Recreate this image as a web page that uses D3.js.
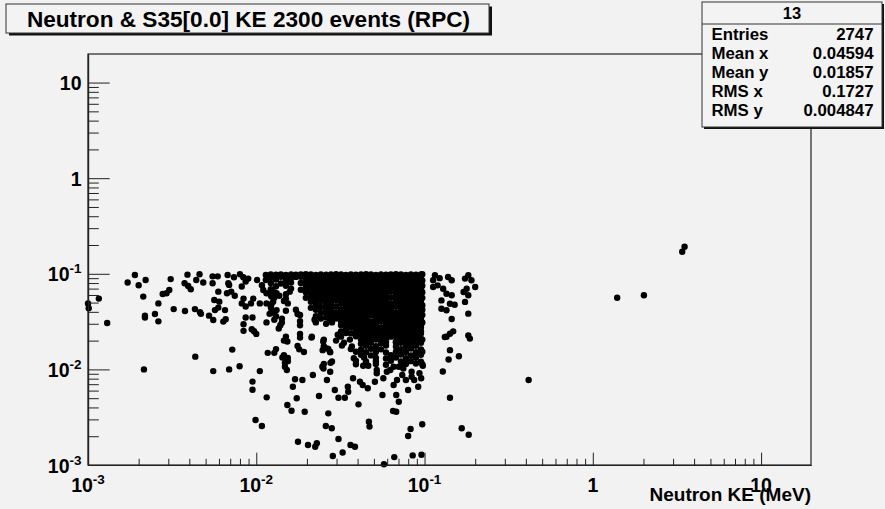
<!DOCTYPE html>
<html>
<head>
<meta charset="utf-8">
<script src="https://cdn.jsdelivr.net/npm/d3@7"></script>
<style>
  html, body { margin: 0; padding: 0; background: #f2f2f2; }
  svg { display: block; }
  text { font-family: "Liberation Sans", Arial, Helvetica, sans-serif; font-weight: bold; fill: #000; }
</style>
</head>
<body>
<script>
// ---- chart text ----
const titleText = "Neutron & S35[0.0] KE 2300 events (RPC)";
const xTitle = "Neutron KE (MeV)";
const statsName = "13";
const statsLabels = ["Entries", "Mean x", "Mean y", "RMS x", "RMS y"];
const statsValues = ["2747", "0.04594", "0.01857", "0.1727", "0.004847"];

// ---- axis ranges and labelled decades ----
const xDomain = [1e-3, 19.8];
const yDomain = [1e-3, 19.9];
const decadeValues = [1e-3, 1e-2, 1e-1, 1, 10];
const decadeBase = ["10", "10", "10", "1", "10"];
const decadeExp = ["-3", "-2", "-1", "", ""];

// ---- events: [neutron KE (MeV), deposit] ----
// low-energy tail on the left
const lowHits = [
  [0.00100,0.049],[0.00101,0.0437],[0.00116,0.055],[0.0013,0.0306],
  [0.00172,0.081],[0.0019,0.097],[0.0020,0.076],[0.0022,0.086],[0.00213,0.0577],[0.00218,0.0365],[0.00218,0.0349],[0.00215,0.0100],
  [0.0025,0.038],[0.00262,0.0318],[0.00262,0.049],[0.00278,0.0614],[0.00293,0.0625],[0.00304,0.0676],[0.0031,0.088],[0.00323,0.0427],
  [0.00377,0.0408],[0.0039,0.098],[0.00375,0.0797],[0.00394,0.0745],[0.00408,0.069],
  [0.00432,0.0427],[0.00463,0.0396],[0.00469,0.0381],[0.0046,0.099],[0.0044,0.086],[0.00484,0.081],[0.00434,0.0136],
  [0.00524,0.0365],[0.00555,0.0329],[0.00555,0.0096],[0.0055,0.0797],[0.0055,0.094],[0.0059,0.094],[0.00595,0.065],
  [0.00563,0.0531],[0.00603,0.0511],[0.00568,0.0417],[0.00595,0.0443],
  [0.00652,0.0417],[0.00637,0.0316],[0.00658,0.0335],
  [0.00676,0.097],[0.00682,0.0797],[0.0069,0.0765],[0.00737,0.092],
  [0.0067,0.0625],[0.0071,0.065],[0.00745,0.059],
  [0.0072,0.0161],[0.0069,0.0100],[0.00796,0.0108],
  [0.0080,0.099],[0.00837,0.092],[0.00896,0.089],[0.00865,0.083],
  [0.0082,0.0735],[0.0084,0.055],[0.0082,0.049],[0.00865,0.0455],[0.0093,0.049],[0.0096,0.055],
  [0.0084,0.0297],[0.0084,0.0253],[0.00865,0.0349],[0.0095,0.0349],
  [0.0094,0.0263],[0.0097,0.0251],[0.0100,0.0235],
  [0.0095,0.00745],[0.0095,0.00613],[0.0105,0.0096],
  [0.0099,0.00296],[0.0108,0.00256],[0.01153,0.0051],
  [0.0117,0.0149],[0.0128,0.0149],[0.0115,0.031],[0.0128,0.033],[0.0136,0.0268],
  [0.0101,0.086],[0.0108,0.076],[0.011,0.0676],[0.0115,0.0625],[0.0123,0.0577],[0.0132,0.0625],
  [0.0105,0.049],[0.0115,0.049],[0.0126,0.051],[0.012,0.0381],[0.0132,0.0417]
];

// main band, 0.01 - 0.1 MeV
const bandHits = [
  [0.0114,0.097],[0.0131,0.098],[0.0150,0.097],[0.0172,0.098],[0.0197,0.099],[0.0226,0.097],[0.0260,0.098],[0.0298,0.099],[0.0341,0.097],[0.0391,0.098],[0.0449,0.099],[0.0514,0.097],[0.0590,0.098],[0.0676,0.099],[0.0775,0.097],[0.0889,0.098],[0.097,0.099],
  [0.0122,0.092],[0.0140,0.093],[0.0161,0.091],[0.0184,0.093],[0.0211,0.092],[0.0242,0.094],[0.0278,0.092],[0.0319,0.093],[0.0365,0.091],[0.0419,0.093],[0.0480,0.092],[0.0551,0.094],[0.0631,0.092],[0.0724,0.093],[0.0830,0.091],[0.0952,0.093],
  [0.0114,0.086],[0.0131,0.087],[0.0150,0.085],[0.0197,0.087],[0.0226,0.086],[0.0260,0.085],[0.0298,0.087],[0.0341,0.086],[0.0391,0.088],[0.0449,0.086],[0.0514,0.085],[0.0590,0.087],[0.0676,0.086],[0.0775,0.088],[0.0889,0.086],[0.097,0.085],
  [0.0122,0.080],[0.0140,0.079],[0.0161,0.081],[0.0184,0.080],[0.0211,0.079],[0.0242,0.081],[0.0278,0.080],[0.0319,0.079],[0.0365,0.080],[0.0419,0.081],[0.0480,0.079],[0.0551,0.080],[0.0631,0.081],[0.0724,0.079],[0.0830,0.080],[0.0952,0.080],
  [0.0131,0.074],[0.0150,0.075],[0.0197,0.075],[0.0226,0.073],[0.0260,0.075],[0.0298,0.074],[0.0341,0.076],[0.0391,0.074],[0.0449,0.075],[0.0514,0.073],[0.0590,0.075],[0.0676,0.074],[0.0775,0.076],[0.0889,0.074],[0.097,0.075],
  [0.0122,0.069],[0.0161,0.070],[0.0184,0.068],[0.0211,0.070],[0.0242,0.069],[0.0278,0.070],[0.0319,0.068],[0.0365,0.069],[0.0419,0.071],[0.0480,0.069],[0.0551,0.068],[0.0631,0.070],[0.0724,0.069],[0.0830,0.071],[0.0952,0.069],
  [0.0128,0.064],[0.0158,0.065],[0.0197,0.064],[0.0226,0.065],[0.0260,0.063],[0.0298,0.065],[0.0341,0.064],[0.0391,0.066],[0.0449,0.064],[0.0514,0.065],[0.0590,0.063],[0.0676,0.065],[0.0775,0.064],[0.0889,0.066],[0.097,0.064],
  [0.0122,0.060],[0.0137,0.059],[0.0150,0.061],[0.0211,0.060],[0.0242,0.059],[0.0278,0.061],[0.0319,0.060],[0.0365,0.059],[0.0419,0.061],[0.0480,0.060],[0.0551,0.059],[0.0724,0.060],[0.0830,0.061],[0.0952,0.059],
  [0.0128,0.056],[0.0150,0.055],[0.0197,0.056],[0.0226,0.055],[0.0260,0.057],[0.0298,0.055],[0.0341,0.056],[0.0391,0.055],[0.0449,0.057],[0.0514,0.056],[0.0590,0.055],[0.0676,0.056],[0.0775,0.057],[0.0889,0.055],[0.097,0.056],
  [0.0146,0.052],[0.0211,0.051],[0.0242,0.052],[0.0278,0.053],[0.0319,0.051],[0.0365,0.052],[0.0419,0.051],[0.0480,0.053],[0.0551,0.052],[0.0724,0.051],[0.0830,0.052],[0.0952,0.053],
  [0.0123,0.048],[0.0154,0.049],[0.0226,0.048],[0.0260,0.049],[0.0341,0.048],[0.0391,0.047],[0.0449,0.049],[0.0514,0.048],[0.0590,0.047],[0.0676,0.049],[0.0775,0.048],[0.0889,0.049],[0.097,0.047],
  [0.0122,0.045],[0.0211,0.044],[0.0242,0.045],[0.0278,0.046],[0.0365,0.045],[0.0419,0.044],[0.0480,0.045],[0.0551,0.046],[0.0631,0.044],[0.0724,0.045],[0.0830,0.046],[0.0952,0.044],
  [0.0123,0.042],[0.0150,0.041],[0.0172,0.042],[0.0226,0.042],[0.0260,0.041],[0.0341,0.042],[0.0391,0.041],[0.0449,0.043],[0.0514,0.042],[0.0590,0.041],[0.0775,0.042],[0.0889,0.041],[0.097,0.042],
  [0.0128,0.039],[0.0176,0.038],[0.0242,0.039],[0.0278,0.038],[0.0319,0.039],[0.0365,0.040],[0.0419,0.039],[0.0480,0.038],[0.0551,0.039],[0.0631,0.040],[0.0724,0.038],[0.0830,0.039],[0.0952,0.039],
  [0.0131,0.036],[0.0182,0.037],[0.0226,0.036],[0.0260,0.035],[0.0298,0.036],[0.0341,0.037],[0.0391,0.036],[0.0449,0.035],[0.0514,0.036],[0.0590,0.037],[0.0676,0.036],[0.0775,0.035],[0.0889,0.036],[0.097,0.037],
  [0.0142,0.034],[0.0222,0.033],[0.0242,0.034],[0.0275,0.033],[0.0319,0.034],[0.0365,0.033],[0.0419,0.034],[0.0551,0.033],[0.0631,0.034],[0.0724,0.033],[0.0830,0.034],[0.0952,0.033],
  [0.0142,0.031],[0.0182,0.032],[0.0226,0.031],[0.0260,0.030],[0.0282,0.031],[0.0341,0.031],[0.0391,0.032],[0.0449,0.031],[0.0514,0.030],[0.0590,0.031],[0.0676,0.032],[0.0775,0.031],[0.0889,0.030],[0.097,0.031],
  [0.0139,0.029],[0.0182,0.029],[0.0319,0.029],[0.0365,0.028],[0.0419,0.029],[0.0480,0.030],[0.0631,0.029],[0.0724,0.028],[0.0830,0.029],[0.0952,0.029],
  [0.0341,0.027],[0.0391,0.026],[0.0449,0.027],[0.0514,0.028],[0.0590,0.027],[0.0676,0.026],[0.0775,0.027],[0.0889,0.027],
  [0.0319,0.025],[0.0419,0.025],[0.0480,0.026],[0.0551,0.025],[0.0631,0.024],[0.0724,0.025],[0.0830,0.026],[0.0952,0.025],
  [0.0182,0.0235],[0.0305,0.023],[0.0341,0.024],[0.0391,0.023],[0.0449,0.024],[0.0514,0.023],[0.0590,0.0235],[0.0676,0.024],[0.0775,0.023],[0.0889,0.024],
  [0.0150,0.022],[0.0182,0.0215],[0.0214,0.022],[0.0319,0.022],[0.0419,0.0215],[0.0480,0.022],[0.0551,0.021],[0.0631,0.022],[0.0724,0.0215],[0.0830,0.022],[0.0952,0.021],
  [0.0146,0.020],[0.0252,0.0205],[0.0298,0.020],[0.0360,0.0205],[0.0449,0.020],[0.0514,0.0205],[0.0590,0.020],[0.0676,0.0195],[0.0775,0.0205],[0.0889,0.020],[0.097,0.0205],
  [0.0332,0.019],[0.0419,0.0185],[0.0480,0.019],[0.0551,0.0188],[0.0724,0.019],[0.0830,0.0185],[0.0952,0.019],
  [0.0176,0.0176],[0.0252,0.0175],[0.0323,0.0178],[0.0370,0.0174],[0.0449,0.0177],[0.0514,0.0175],[0.0590,0.0178],[0.0676,0.0174],[0.0775,0.0176],[0.0889,0.0177],
  [0.0131,0.0163],[0.0180,0.0162],[0.0268,0.0164],[0.0365,0.0163],[0.0419,0.0161],[0.0480,0.0164],[0.0551,0.0162],[0.0724,0.0163],[0.0830,0.0165],[0.0952,0.0162],
  [0.0192,0.0152],[0.0275,0.0151],[0.0391,0.0153],[0.0449,0.0151],[0.0514,0.0152],[0.0590,0.0150],[0.0676,0.0153],[0.0775,0.0152],[0.0889,0.0151],[0.097,0.0153],
  [0.0146,0.0141],[0.0419,0.0142],[0.0480,0.0140],[0.0631,0.0141],[0.0724,0.0143],[0.0830,0.0140],[0.0952,0.0142],
  [0.0154,0.0132],[0.0380,0.0131],[0.0437,0.0133],[0.0514,0.0132],[0.0590,0.0130],[0.0676,0.0133],[0.0775,0.0131],[0.0889,0.0132],
  [0.0154,0.0122],[0.0282,0.0121],[0.0391,0.0123],[0.0449,0.0121],[0.0514,0.0122],[0.0631,0.0123],[0.0724,0.0121],[0.0830,0.0122],[0.0952,0.0120],
  [0.0252,0.0114],[0.0391,0.0113],[0.0449,0.0115],[0.0514,0.0114],[0.0590,0.0112],[0.0775,0.0114],[0.0889,0.0115],[0.097,0.0113]
];

// saturated core of the band, 0.02 - 0.1 MeV
const coreHits = [
  [0.0122,0.0985],[0.0140,0.0985],[0.0161,0.0985],[0.0184,0.0985],[0.0211,0.0985],[0.0242,0.0985],[0.0278,0.0985],[0.0319,0.0985],[0.0365,0.0985],[0.0419,0.0985],[0.0480,0.0985],[0.0551,0.0985],[0.0631,0.0985],[0.0724,0.0985],[0.0830,0.0985],[0.0952,0.0985],
  [0.0131,0.0928],[0.0150,0.0928],[0.0172,0.0928],[0.0197,0.0928],[0.0226,0.0928],[0.0260,0.0928],[0.0298,0.0928],[0.0341,0.0928],[0.0391,0.0928],[0.0449,0.0928],[0.0514,0.0928],[0.0590,0.0928],[0.0676,0.0928],[0.0775,0.0928],[0.0889,0.0928],
  [0.0211,0.0865],[0.0242,0.0865],[0.0278,0.0865],[0.0319,0.0865],[0.0365,0.0865],[0.0419,0.0865],[0.0480,0.0865],[0.0551,0.0865],[0.0631,0.0865],[0.0724,0.0865],[0.0830,0.0865],[0.0952,0.0865],
  [0.0197,0.0803],[0.0226,0.0803],[0.0260,0.0803],[0.0298,0.0803],[0.0341,0.0803],[0.0391,0.0803],[0.0449,0.0803],[0.0514,0.0803],[0.0590,0.0803],[0.0676,0.0803],[0.0775,0.0803],[0.0889,0.0803],
  [0.0211,0.0748],[0.0242,0.0748],[0.0278,0.0748],[0.0319,0.0748],[0.0365,0.0748],[0.0419,0.0748],[0.0480,0.0748],[0.0551,0.0748],[0.0631,0.0748],[0.0724,0.0748],[0.0830,0.0748],[0.0952,0.0748],
  [0.0197,0.0697],[0.0226,0.0697],[0.0260,0.0697],[0.0298,0.0697],[0.0341,0.0697],[0.0391,0.0697],[0.0449,0.0697],[0.0514,0.0697],[0.0590,0.0697],[0.0676,0.0697],[0.0775,0.0697],[0.0889,0.0697],
  [0.0211,0.0648],[0.0242,0.0648],[0.0278,0.0648],[0.0319,0.0648],[0.0365,0.0648],[0.0419,0.0648],[0.0480,0.0648],[0.0551,0.0648],[0.0631,0.0648],[0.0724,0.0648],[0.0830,0.0648],[0.0952,0.0648],
  [0.0226,0.0603],[0.0260,0.0603],[0.0298,0.0603],[0.0341,0.0603],[0.0391,0.0603],[0.0449,0.0603],[0.0514,0.0603],[0.0590,0.0603],[0.0676,0.0603],[0.0775,0.0603],[0.0889,0.0603],
  [0.0211,0.0561],[0.0242,0.0561],[0.0278,0.0561],[0.0319,0.0561],[0.0365,0.0561],[0.0419,0.0561],[0.0480,0.0561],[0.0551,0.0561],[0.0631,0.0561],[0.0724,0.0561],[0.0830,0.0561],[0.0952,0.0561],
  [0.0226,0.0522],[0.0260,0.0522],[0.0298,0.0522],[0.0341,0.0522],[0.0391,0.0522],[0.0449,0.0522],[0.0514,0.0522],[0.0590,0.0522],[0.0676,0.0522],[0.0775,0.0522],[0.0889,0.0522],
  [0.0278,0.0486],[0.0319,0.0486],[0.0365,0.0486],[0.0419,0.0486],[0.0480,0.0486],[0.0551,0.0486],[0.0631,0.0486],[0.0724,0.0486],[0.0830,0.0486],[0.0952,0.0486],
  [0.0260,0.0452],[0.0298,0.0452],[0.0341,0.0452],[0.0391,0.0452],[0.0449,0.0452],[0.0514,0.0452],[0.0590,0.0452],[0.0676,0.0452],[0.0775,0.0452],[0.0889,0.0452],
  [0.0278,0.0421],[0.0319,0.0421],[0.0365,0.0421],[0.0419,0.0421],[0.0480,0.0421],[0.0551,0.0421],[0.0631,0.0421],[0.0724,0.0421],[0.0830,0.0421],[0.0952,0.0421],
  [0.0260,0.0392],[0.0298,0.0392],[0.0341,0.0392],[0.0391,0.0392],[0.0449,0.0392],[0.0514,0.0392],[0.0590,0.0392],[0.0676,0.0392],[0.0775,0.0392],[0.0889,0.0392],
  [0.0278,0.0365],[0.0319,0.0365],[0.0365,0.0365],[0.0419,0.0365],[0.0480,0.0365],[0.0551,0.0365],[0.0631,0.0365],[0.0724,0.0365],[0.0830,0.0365],[0.0952,0.0365],
  [0.0298,0.0340],[0.0341,0.0340],[0.0391,0.0340],[0.0449,0.0340],[0.0514,0.0340],[0.0590,0.0340],[0.0676,0.0340],[0.0775,0.0340],[0.0889,0.0340],
  [0.0319,0.0316],[0.0365,0.0316],[0.0419,0.0316],[0.0480,0.0316],[0.0551,0.0316],[0.0631,0.0316],[0.0724,0.0316],[0.0830,0.0316],[0.0952,0.0316],
  [0.0341,0.0295],[0.0391,0.0295],[0.0449,0.0295],[0.0514,0.0295],[0.0590,0.0295],[0.0676,0.0295],[0.0775,0.0295],[0.0889,0.0295],
  [0.0365,0.0274],[0.0419,0.0274],[0.0480,0.0274],[0.0551,0.0274],[0.0631,0.0274],[0.0724,0.0274],[0.0830,0.0274],[0.0952,0.0274],
  [0.0341,0.0255],[0.0391,0.0255],[0.0449,0.0255],[0.0514,0.0255],[0.0590,0.0255],[0.0676,0.0255],[0.0775,0.0255],[0.0889,0.0255],
  [0.0365,0.0238],[0.0419,0.0238],[0.0480,0.0238],[0.0551,0.0238],[0.0631,0.0238],[0.0724,0.0238],[0.0830,0.0238],[0.0952,0.0238],
  [0.0391,0.0222],[0.0449,0.0222],[0.0514,0.0222],[0.0590,0.0222],[0.0676,0.0222],[0.0775,0.0222],[0.0889,0.0222],
  [0.0419,0.0206],[0.0480,0.0206],[0.0551,0.0206],[0.0724,0.0206],[0.0830,0.0206],[0.0952,0.0206],
  [0.0449,0.0192],[0.0590,0.0192],[0.0676,0.0192],[0.0775,0.0192],[0.0889,0.0192]
];

// sparse events below the band
const lowDepositHits = [
  [0.0143,0.0133],[0.0148,0.0117],[0.0153,0.0196],[0.0213,0.0215],
  [0.0248,0.0159],[0.0274,0.0153],[0.0262,0.0166],[0.0250,0.0196],[0.0276,0.0117],
  [0.0148,0.01067],[0.0152,0.00986],[0.0170,0.0079],[0.0188,0.00775],[0.0165,0.00659],[0.0174,0.00499],
  [0.0153,0.00424],[0.0162,0.0037],[0.0194,0.00361],[0.0217,0.00874],[0.0251,0.0102],[0.0247,0.01067],
  [0.0263,0.00775],[0.0275,0.00946],[0.0293,0.00609],[0.0308,0.00506],[0.0336,0.00506],[0.0350,0.00659],[0.0352,0.00584],
  [0.0236,0.00527],[0.0268,0.00347],[0.0259,0.00256],[0.0281,0.00242],[0.0308,0.00187],[0.0326,0.00135],[0.0285,0.00124],
  [0.0177,0.00175],[0.0203,0.00162],[0.0224,0.00155],[0.0229,0.00169],[0.0363,0.00162],[0.0386,0.00155],
  [0.0405,0.00431],[0.0376,0.00807],[0.0413,0.00743],[0.0429,0.00687],[0.0460,0.00634],[0.0467,0.00284],[0.0471,0.00252],
  [0.0507,0.00743],[0.0520,0.0091],[0.0520,0.00986],[0.0432,0.0109],[0.0463,0.0109],
  [0.0569,0.00807],[0.0597,0.00946],[0.0626,0.00986],[0.0655,0.01067],[0.0703,0.01067],[0.0737,0.0109],[0.0748,0.0102],
  [0.0737,0.00874],[0.0775,0.00775],[0.0838,0.00946],[0.0838,0.00839],[0.0868,0.00775],[0.0933,0.0091],[0.0955,0.00807],
  [0.0977,0.0109],[0.0917,0.00659],[0.0799,0.00609],[0.0655,0.00687],[0.0686,0.00775],[0.0562,0.0054],[0.0679,0.0054],
  [0.0703,0.00459],[0.0650,0.00367],[0.0679,0.00361],[0.0969,0.00267],[0.0826,0.00238],[0.0799,0.00201],
  [0.0661,0.00121],[0.0850,0.00126],[0.0959,0.00128],[0.0574,0.00102]
];

// events just above 0.1 MeV
const highHits = [
  [0.1153,0.0965],[0.123,0.090],[0.1125,0.0855],[0.138,0.0925],[0.145,0.0855],[0.1125,0.0727],[0.1196,0.0757],
  [0.129,0.0697],[0.135,0.0619],[0.145,0.0596],[0.126,0.0527],[0.1416,0.0486],[0.151,0.0475],[0.126,0.0431],
  [0.135,0.0415],[0.145,0.0337],[0.132,0.0218],[0.135,0.022],[0.1416,0.0236],[0.148,0.025],
  [0.182,0.0965],[0.174,0.089],[0.19,0.0855],[0.178,0.0697],[0.1706,0.0645],[0.2,0.0727],[0.182,0.0596],
  [0.174,0.0508],[0.182,0.0383],[0.182,0.0226],[0.186,0.021],[0.1416,0.0159],[0.16,0.0137],[0.139,0.0127],
  [0.1284,0.0095],[0.1416,0.00506],[0.1663,0.00242],[0.183,0.00207]
];

// isolated MeV-range events
const mevHits = [
  [0.4155,0.00774],[1.396,0.0562],[2.012,0.0596],[3.40,0.170],[3.51,0.192]
];

// ---- layout ----
const W = 885, H = 509;
const frame = { left: 88, top: 54, right: 811, bottom: 465 };
const bg = "#f2f2f2";
const lineCol = "#222";

const svg = d3.select("body").append("svg").attr("width", W).attr("height", H);
svg.append("rect").attr("width", W).attr("height", H).attr("fill", bg);

const x = d3.scaleLog().domain(xDomain).range([frame.left, frame.right]);
const y = d3.scaleLog().domain(yDomain).range([frame.bottom, frame.top]);

// frame
svg.append("rect")
  .attr("x", frame.left).attr("y", frame.top)
  .attr("width", frame.right - frame.left).attr("height", frame.bottom - frame.top)
  .attr("fill", "none").attr("stroke", lineCol).attr("stroke-width", 1.2);

// events
const allHits = [].concat(lowHits, bandHits, coreHits, lowDepositHits, highHits, mevHits);
svg.append("g").selectAll("circle").data(allHits).join("circle")
  .attr("cx", d => x(d[0])).attr("cy", d => y(d[1]))
  .attr("r", 3.2).attr("fill", "#000");

// minor tick positions 2..9 x 10^n inside a domain
function minorTicks(dom) {
  const out = [];
  const lo = Math.floor(Math.log10(dom[0])), hi = Math.ceil(Math.log10(dom[1]));
  for (let e = lo; e <= hi; e++) {
    for (let k = 2; k <= 9; k++) {
      const v = k * Math.pow(10, e);
      if (v > dom[0] && v < dom[1]) out.push(v);
    }
  }
  return out;
}

function styleAxis(g) {
  g.selectAll("path.domain").attr("stroke", lineCol).attr("stroke-width", 1.2);
  g.selectAll(".tick line").attr("stroke", lineCol).attr("stroke-width", 1);
  g.selectAll(".tick text").remove();
}

// x axis: ticks point up into the frame
svg.append("g").attr("transform", `translate(0,${frame.bottom})`)
  .call(d3.axisTop(x).tickValues(minorTicks(xDomain)).tickSize(6.2).tickSizeOuter(0).tickFormat(""))
  .call(styleAxis);
svg.append("g").attr("transform", `translate(0,${frame.bottom})`)
  .call(d3.axisTop(x).tickValues(decadeValues).tickSize(12.3).tickSizeOuter(0).tickFormat(""))
  .call(styleAxis);

// y axis: ticks point right into the frame
svg.append("g").attr("transform", `translate(${frame.left},0)`)
  .call(d3.axisRight(y).tickValues(minorTicks(yDomain)).tickSize(10.8).tickSizeOuter(0).tickFormat(""))
  .call(styleAxis);
svg.append("g").attr("transform", `translate(${frame.left},0)`)
  .call(d3.axisRight(y).tickValues(decadeValues).tickSize(21.7).tickSizeOuter(0).tickFormat(""))
  .call(styleAxis);

// decade labels with superscript exponents
function decadeLabel(sel, i) {
  sel.append("tspan").text(decadeBase[i]);
  if (decadeExp[i]) {
    sel.append("tspan").attr("dy", -8).attr("font-size", 13.5).text(decadeExp[i]);
  }
}
decadeValues.forEach((v, i) => {
  const t = svg.append("text")
    .attr("x", x(v)).attr("y", frame.bottom + 27)
    .attr("text-anchor", "middle").attr("font-size", 19.5);
  decadeLabel(t, i);
  const u = svg.append("text")
    .attr("x", 81.5).attr("y", y(v) + 7.5)
    .attr("text-anchor", "end").attr("font-size", 19.5);
  decadeLabel(u, i);
});

// x axis title (sits over the "10" label, as drawn by the plotting package)
svg.append("text")
  .attr("x", frame.right).attr("y", 501)
  .attr("text-anchor", "end").attr("font-size", 19)
  .text(xTitle);

// title box with shadow
const tb = { x: 6, y: 4, w: 483, h: 29 };
svg.append("rect").attr("x", tb.x + 3).attr("y", tb.y + 2.5).attr("width", tb.w).attr("height", tb.h).attr("fill", "#111");
svg.append("rect").attr("x", tb.x).attr("y", tb.y).attr("width", tb.w).attr("height", tb.h)
  .attr("fill", "#f3f3f3").attr("stroke", "#333").attr("stroke-width", 1);
svg.append("text")
  .attr("x", tb.x + tb.w / 2 + 1).attr("y", 26.5)
  .attr("text-anchor", "middle").attr("font-size", 22.6)
  .text(titleText);

// statistics box
const sb = { x: 702, y: 2, w: 180, h: 125 };
svg.append("rect").attr("x", sb.x + 2).attr("y", sb.y + 2).attr("width", sb.w).attr("height", sb.h).attr("fill", "#111");
svg.append("rect").attr("x", sb.x).attr("y", sb.y).attr("width", sb.w).attr("height", sb.h)
  .attr("fill", "#f3f3f3").attr("stroke", "#333").attr("stroke-width", 1);
svg.append("line").attr("x1", sb.x).attr("x2", sb.x + sb.w).attr("y1", 24).attr("y2", 24)
  .attr("stroke", "#333").attr("stroke-width", 1);
svg.append("text")
  .attr("x", sb.x + sb.w / 2).attr("y", 18.5)
  .attr("text-anchor", "middle").attr("font-size", 16.5)
  .text(statsName);
statsLabels.forEach((lab, i) => {
  const by = 40 + i * 18.9;
  svg.append("text").attr("x", 711.5).attr("y", by).attr("font-size", 16.8).text(lab);
  svg.append("text").attr("x", 873.5).attr("y", by).attr("text-anchor", "end").attr("font-size", 16.8).text(statsValues[i]);
});
</script>
</body>
</html>
